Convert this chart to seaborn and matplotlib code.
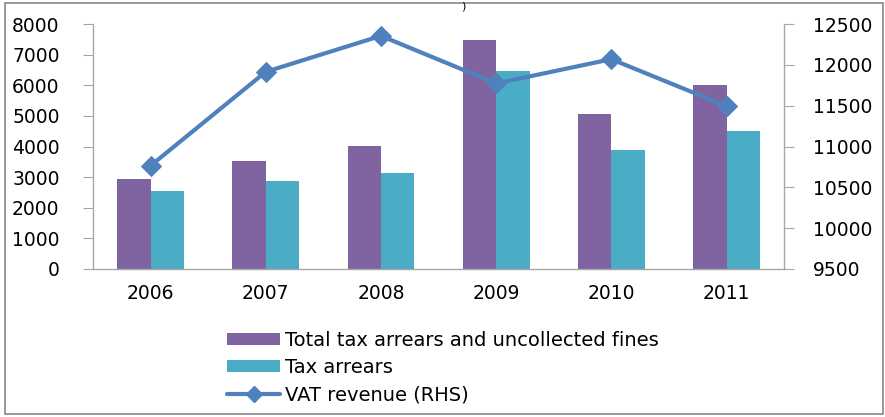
import matplotlib
matplotlib.use("Agg")
import matplotlib.pyplot as plt
import seaborn as sns
import pandas as pd
from matplotlib.patches import Patch, Rectangle
from matplotlib.lines import Line2D

years = ["2006", "2007", "2008", "2009", "2010", "2011"]
total_arrears = [2940, 3540, 4020, 7480, 5055, 6010]
tax_arrears = [2550, 2875, 3125, 6470, 3880, 4510]
vat_revenue = [10765, 11916, 12357, 11774, 12071, 11496]

s_total = "Total tax arrears and uncollected fines"
s_tax = "Tax arrears"
s_vat = "VAT revenue (RHS)"

c_total = "#8064A2"
c_tax = "#4BACC6"
c_vat = "#4F81BD"
gray = "#A6A6A6"

sns.set_style("white")
plt.rcParams["font.family"] = ["DejaVu Sans"]
plt.rcParams["text.color"] = "black"
plt.rcParams["xtick.labelcolor"] = "black"
plt.rcParams["ytick.labelcolor"] = "black"

df = pd.DataFrame({
    "year": years * 2,
    "value": total_arrears + tax_arrears,
    "series": [s_total] * len(years) + [s_tax] * len(years),
})
dline = pd.DataFrame({"x": list(range(len(years))), "vat": vat_revenue})

fig = plt.figure(figsize=(8.85, 4.17), dpi=100)
ax = fig.add_axes([0.105, 0.355, 0.781, 0.587])

sns.barplot(data=df, x="year", y="value", hue="series", order=years,
            hue_order=[s_total, s_tax], palette=[c_total, c_tax],
            width=0.58, saturation=1, ax=ax, legend=False, linewidth=0,
            edgecolor="none")
ax.set_xlim(-0.5, len(years) - 0.5)
ax.set_ylim(0, 8000)
ax.set_yticks(range(0, 8001, 1000))
ax.set_xlabel("")
ax.set_ylabel("")

ax2 = ax.twinx()
sns.lineplot(data=dline, x="x", y="vat", ax=ax2, color=c_vat, linewidth=3,
             marker="D", markersize=10, markeredgecolor=c_vat, legend=False)
ax2.set_ylim(9500, 12500)
ax2.set_yticks(range(9500, 12501, 500))
ax2.set_xlim(-0.5, len(years) - 0.5)
ax2.set_ylabel("")
ax2.set_xlabel("")

# spines
for a in (ax, ax2):
    for s in a.spines.values():
        s.set_visible(False)
ax.spines["left"].set_visible(True)
ax.spines["bottom"].set_visible(True)
ax2.spines["right"].set_visible(True)
for s in (ax.spines["left"], ax.spines["bottom"], ax2.spines["right"]):
    s.set_color(gray)
    s.set_linewidth(1)

# x ticks at category boundaries
ax.set_xticks(range(len(years)))
ax.set_xticklabels(years)
ax.set_xticks([i + 0.5 for i in range(-1, len(years))], minor=True)
ax.tick_params(axis="x", which="major", length=0, pad=11, labelsize=13.5, labelcolor="black")
ax.tick_params(axis="x", which="minor", length=6, color=gray, direction="out")
ax.tick_params(axis="y", length=7, color=gray, direction="out", pad=17, labelsize=13.5,
               left=True, labelcolor="black")
ax2.tick_params(axis="y", length=7, color=gray, direction="out", pad=14, labelsize=13.5,
                right=True, labelcolor="black")

handles = [
    Patch(facecolor=c_total, edgecolor="none", label=s_total),
    Patch(facecolor=c_tax, edgecolor="none", label=s_tax),
    Line2D([0], [0], color=c_vat, lw=3, marker="D", markersize=8, label=s_vat),
]
leg = fig.legend(handles=handles, loc="upper left", bbox_to_anchor=(0.257, 0.207),
                 frameon=False, fontsize=14, handlelength=2.7, handleheight=0.6,
                 handletextpad=0.25, labelspacing=0.42, borderaxespad=0, borderpad=0)
for t in leg.get_texts():
    t.set_color("black")

fig.text(0.523, 0.997, ")", ha="center", va="top", fontsize=8, color="black")

fig.patches.append(Rectangle((0.006, 0.006), 0.992, 0.986, transform=fig.transFigure,
                             fill=False, edgecolor="#888888", linewidth=1.2))

fig.savefig("out.png", dpi=100)
